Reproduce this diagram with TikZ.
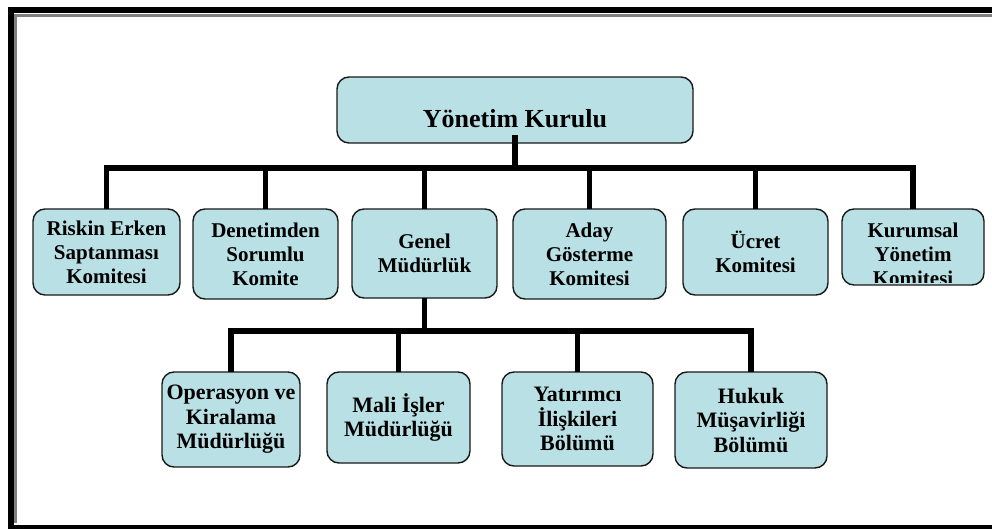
\documentclass[tikz,border=0pt]{standalone}
\usepackage{fontspec}
\setmainfont{Liberation Serif}
\usetikzlibrary{positioning}
\definecolor{boxfill}{RGB}{185,224,228}

\begin{document}
\begin{tikzpicture}[x=1pt,y=-1pt,
  box/.style={draw=black!90, fill=boxfill, line width=1.4pt, rounded corners=12pt,
    inner sep=0pt, outer sep=0pt, align=center, font=\bfseries\fontsize{21}{24}\selectfont},
  lowbox/.style={box, font=\bfseries\fontsize{22}{24.5}\selectfont},
  conn/.style={line width=5.5pt}]

\useasboundingbox (0,0) rectangle (992,529);
\clip (0,0) rectangle (992,529);

% frame
\draw[line width=6pt] (11,10) rectangle (1010,528);
\draw[gray, line width=3pt] (15.5,523) -- (15.5,15.5) -- (1005,15.5);

\node[box, minimum width=356pt, minimum height=66pt, text height=36pt, text depth=0pt,
  font=\bfseries\fontsize{26}{30}\selectfont] (YK) at (515,110) {Yönetim Kurulu};

% committees
\node[box, minimum width=147pt, minimum height=86pt] (K1) at (106.5,252) {Riskin Erken\\Saptanması\\Komitesi};
\node[box, minimum width=145pt, minimum height=90pt, right=13pt of K1.north east, anchor=north west] (K2) {Denetimden\\Sorumlu\\Komite};
\node[box, minimum width=145pt, minimum height=89pt, right=14pt of K2.north east, anchor=north west] (K3) {Genel\\Müdürlük};
\node[box, minimum width=153pt, minimum height=90pt, right=16pt of K3.north east, anchor=north west] (K4) {Aday\\Gösterme\\Komitesi};
\node[box, minimum width=145pt, minimum height=86pt, right=17pt of K4.north east, anchor=north west] (K5) {Ücret\\Komitesi};
\node[box, minimum width=142pt, minimum height=76pt, right=14pt of K5.north east, anchor=north west] (K6) {};

\begin{scope}
\clip[rounded corners=11pt] ([shift={(1.5pt,-1.5pt)}]K6.north west) rectangle ([shift={(-1.5pt,3pt)}]K6.south east);
\node[box, draw=none, fill=none, anchor=north, yshift=-13.7pt] (K6T) at (K6.north) {Kurumsal\\Yönetim\\Komitesi};
\end{scope}

% departments
\node[lowbox, minimum width=138pt, minimum height=95pt] (M1) at (231,419.5) {Operasyon ve\\Kiralama\\Müdürlüğü};
\node[lowbox, minimum width=143pt, minimum height=91pt, right=27pt of M1.north east, anchor=north west] (M2) {Mali İşler\\Müdürlüğü};
\node[lowbox, minimum width=151pt, minimum height=94pt, right=32pt of M2.north east, anchor=north west] (M3) {Yatırımcı\\İlişkileri\\Bölümü};
\node[lowbox, minimum width=152pt, minimum height=96pt, right=22pt of M3.north east, anchor=north west] (M4) {Hukuk\\Müşavirliği\\Bölümü};

\coordinate (B1) at ([yshift=-25pt]YK.south);
\coordinate (B2) at ([yshift=-33pt]K3.south);

\draw[conn] ([yshift=8pt]YK.south) -- (B1);
\foreach \k in {K1,K2,K3,K4,K5,K6}
  \draw[conn] (\k.north) |- (B1);
\draw[conn] (K3.south) -- (B2);
\foreach \m in {M1,M2,M3,M4}
  \draw[conn] (\m.north) |- (B2);

\end{tikzpicture}
\end{document}
